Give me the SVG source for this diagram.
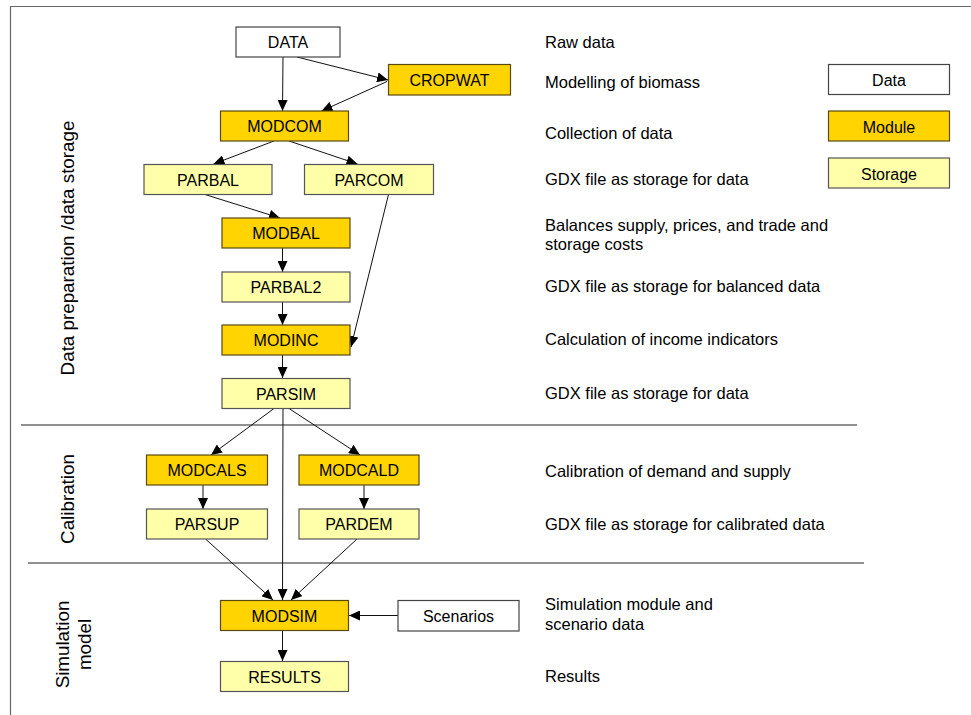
<svg xmlns="http://www.w3.org/2000/svg" width="971" height="715" viewBox="0 0 971 715">
<style>
text{font-family:"Liberation Sans",Arial,sans-serif;fill:#000}
.n{font-size:16px;text-anchor:middle}
.d{font-size:16.5px}
.v{font-size:18.8px;text-anchor:middle}
.data{fill:#fff;stroke:#444;stroke-width:1.2}
.mod{fill:#FFD400;stroke:#5a4a10;stroke-width:1.2}
.sto{fill:#FFFFAA;stroke:#555;stroke-width:1.2}
.c line,.c path{stroke:#111;stroke-width:1;fill:none;marker-end:url(#ah)}
.sep{stroke:#222;stroke-width:1.2}
</style>
<defs>
<marker id="ah" markerUnits="userSpaceOnUse" markerWidth="11" markerHeight="10" refX="11" refY="5" orient="auto">
<path d="M0,0 L11,5 L0,10 z" fill="#000"/>
</marker>
</defs>
<rect width="971" height="715" fill="#fff"/>
<path d="M10.5,715 V6.5 H971" fill="none" stroke="#666" stroke-width="1.2"/>
<line class="sep" x1="21" y1="425" x2="857" y2="425"/>
<line class="sep" x1="28" y1="563" x2="864" y2="563"/>

<g id="section-labels">
<text class="v" transform="translate(73.5,248) rotate(-90)">Data preparation /data storage</text>
<text class="v" transform="translate(74,499) rotate(-90)">Calibration</text>
<text class="v" transform="translate(68.5,644.5) rotate(-90)">Simulation</text>
<text class="v" transform="translate(91,644.5) rotate(-90)">model</text>
</g>

<g class="c" id="connectors">
<line x1="283" y1="57" x2="282.5" y2="111"/>
<line x1="297" y1="57" x2="388" y2="80"/>
<line x1="387" y1="81.5" x2="321.5" y2="111"/>
<line x1="274" y1="141" x2="213.5" y2="164"/>
<line x1="289" y1="141" x2="357.5" y2="164"/>
<line x1="205" y1="194.5" x2="280" y2="218"/>
<line x1="388.5" y1="194.5" x2="351" y2="347"/>
<line x1="282.5" y1="248" x2="282.5" y2="272"/>
<line x1="282.5" y1="302" x2="282.5" y2="325"/>
<line x1="282.5" y1="355" x2="282.5" y2="378"/>
<line x1="274" y1="408.5" x2="211" y2="455"/>
<line x1="289" y1="408.5" x2="360" y2="455"/>
<line x1="283" y1="408.5" x2="282.5" y2="600"/>
<line x1="203" y1="485" x2="203" y2="509"/>
<line x1="364" y1="485" x2="364" y2="509"/>
<line x1="205.5" y1="539" x2="273" y2="600"/>
<line x1="357" y1="539" x2="291" y2="600"/>
<line x1="398" y1="615.5" x2="349" y2="615.5"/>
<line x1="282.5" y1="630" x2="282.5" y2="661"/>
</g>

<g id="DATA"><rect class="data" x="236" y="27" width="104" height="30"/><text class="n" x="288" y="48">DATA</text></g>
<g id="CROPWAT"><rect class="mod" x="388.5" y="64.5" width="122" height="30.5"/><text class="n" x="449.5" y="86">CROPWAT</text></g>
<g id="MODCOM"><rect class="mod" x="220.5" y="111" width="128" height="30"/><text class="n" x="284.5" y="132">MODCOM</text></g>
<g id="PARBAL"><rect class="sto" x="144" y="164.5" width="128" height="30"/><text class="n" x="208" y="185.5">PARBAL</text></g>
<g id="PARCOM"><rect class="sto" x="304.5" y="164.5" width="129" height="30"/><text class="n" x="369" y="185.5">PARCOM</text></g>
<g id="MODBAL"><rect class="mod" x="222" y="218" width="128" height="30"/><text class="n" x="286" y="239">MODBAL</text></g>
<g id="PARBAL2"><rect class="sto" x="222" y="272" width="128" height="30"/><text class="n" x="286" y="293">PARBAL2</text></g>
<g id="MODINC"><rect class="mod" x="222" y="325" width="128" height="30"/><text class="n" x="286" y="346">MODINC</text></g>
<g id="PARSIM"><rect class="sto" x="222" y="378.5" width="128" height="30"/><text class="n" x="286" y="399.5">PARSIM</text></g>
<g id="MODCALS"><rect class="mod" x="146.5" y="455" width="121" height="30"/><text class="n" x="207" y="476">MODCALS</text></g>
<g id="MODCALD"><rect class="mod" x="299" y="455" width="120" height="30"/><text class="n" x="359" y="476">MODCALD</text></g>
<g id="PARSUP"><rect class="sto" x="146.5" y="509" width="121" height="30"/><text class="n" x="207" y="530">PARSUP</text></g>
<g id="PARDEM"><rect class="sto" x="299" y="509" width="120" height="30"/><text class="n" x="359" y="530">PARDEM</text></g>
<g id="MODSIM"><rect class="mod" x="220.5" y="600.5" width="128" height="30"/><text class="n" x="284.5" y="621.5">MODSIM</text></g>
<g id="Scenarios"><rect class="data" x="398" y="600.5" width="121" height="30.5"/><text class="n" x="458.5" y="622">Scenarios</text></g>
<g id="RESULTS"><rect class="sto" x="220.5" y="661.5" width="128" height="30"/><text class="n" x="284.5" y="682.5">RESULTS</text></g>

<g id="legend">
<g id="legend-data"><rect class="data" x="828.5" y="64.5" width="121" height="30"/><text class="n" x="889" y="86">Data</text></g>
<g id="legend-module"><rect class="mod" x="828.5" y="111" width="121" height="30"/><text class="n" x="889" y="133">Module</text></g>
<g id="legend-storage"><rect class="sto" x="828.5" y="158" width="121" height="30"/><text class="n" x="889" y="180">Storage</text></g>
</g>

<g id="descriptions">
<text class="d" x="545" y="47.5">Raw data</text>
<text class="d" x="545" y="87.5">Modelling of biomass</text>
<text class="d" x="545" y="139">Collection of data</text>
<text class="d" x="545" y="185">GDX file as storage for data</text>
<text class="d" x="545" y="231">Balances supply, prices, and trade and</text>
<text class="d" x="545" y="250">storage costs</text>
<text class="d" x="545" y="292">GDX file as storage for balanced data</text>
<text class="d" x="545" y="345">Calculation of income indicators</text>
<text class="d" x="545" y="399">GDX file as storage for data</text>
<text class="d" x="545" y="477">Calibration of demand and supply</text>
<text class="d" x="545" y="530">GDX file as storage for calibrated data</text>
<text class="d" x="545" y="610">Simulation module and</text>
<text class="d" x="545" y="630">scenario data</text>
<text class="d" x="545" y="682">Results</text>
</g>
</svg>
